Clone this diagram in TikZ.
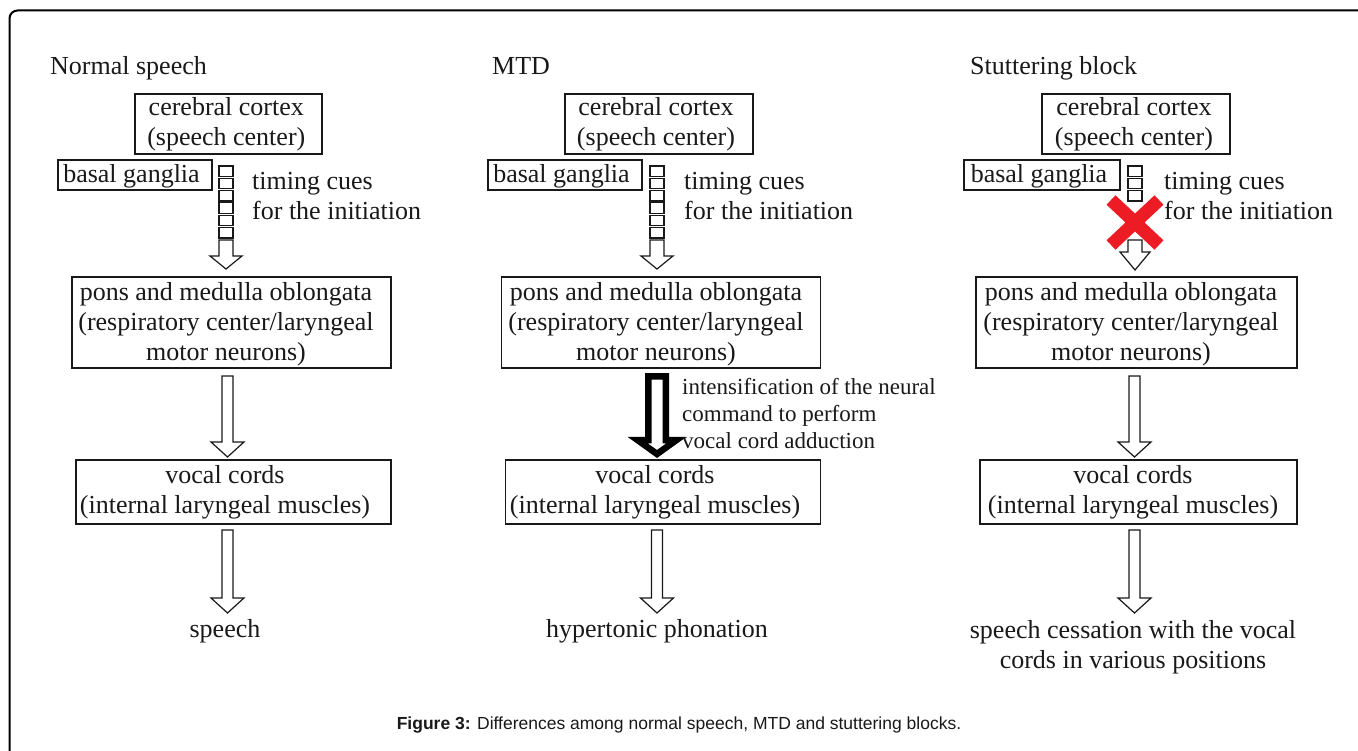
\documentclass[tikz,border=0pt]{standalone}
\usepackage{fontspec}
\setmainfont{Liberation Serif}
\newfontfamily\capfont{Liberation Sans}
\usetikzlibrary{calc}
\definecolor{xred}{RGB}{237,28,36}
\definecolor{ink}{RGB}{25,25,25}
\newcommand\mainfs{\fontsize{26}{30}\selectfont}
\newcommand\smallfs{\fontsize{23}{27}\selectfont}
% #1 style, #2 start coord, #3 tip coord, #4 shaft half width, #5 head half width, #6 head length
\newcommand\hollowarrow[6]{%
  \draw[#1] ($(#2)+(-#4,0)$) -- ($(#3)+(-#4,-#6)$) -- ($(#3)+(-#5,-#6)$) -- (#3)
    -- ($(#3)+(#5,-#6)$) -- ($(#3)+(#4,-#6)$) -- ($(#2)+(#4,0)$) -- cycle;}
\tikzset{
  boxn/.style={draw=ink, line width=1.4pt, inner sep=0pt},
  txt/.style={font=\mainfs, text=ink, inner sep=0pt, align=center},
  ltxt/.style={font=\mainfs, text=ink, inner sep=0pt, align=left, anchor=west},
  segbox/.style={draw=ink, line width=1.2pt, fill=white},
  harrow/.style={draw=ink, line width=1.2pt, fill=white, line join=miter},
  thickarrow/.style={draw=black, line width=6.5pt, fill=white, line join=miter},
  title/.style={font=\mainfs, text=ink, inner sep=0pt, anchor=base west}
}
\begin{document}
\begin{tikzpicture}[x=1pt,y=-1pt]
\useasboundingbox (0,0) rectangle (1358,751);
\fill[white] (0,0) rectangle (1358,751);
\draw[line width=2pt, rounded corners=8pt] (1370,10.5) -- (9.5,10.5) -- (9.5,770);

% ---------- column 1 ----------
\node[title] (t1) at (50,75) {Normal speech};
\node[boxn, minimum width=187pt, minimum height=60pt] (cc1) at (228.5,124) {};
\node[txt] (cc1t) at (226.3,124.5) {\strut cerebral cortex\\\strut (speech center)};
\node[boxn, minimum width=154pt, minimum height=30pt] (bg1) at (135,175) {};
\node[txt, anchor=base] (bg1t) at (131.5,183) {basal ganglia};
\node[ltxt] (tc1) at (252,199) {\strut timing cues\\\strut for the initiation};
\foreach \i in {0,...,5} \draw[segbox] (219,{166+12.3*\i}) rectangle ++(14,10.5);
\coordinate (s1a) at (226,240);
\coordinate (s1b) at (226,269);
\hollowarrow{harrow}{s1a}{s1b}{7}{16}{13}
\node[boxn, minimum width=319pt, minimum height=91pt] (pons1) at (231.5,322.5) {};
\node[txt] (pons1t) at (226,324.5) {\strut pons and medulla oblongata\\\strut (respiratory center/laryngeal\\\strut motor neurons)};
\coordinate (a1a) at (227.5,376);
\coordinate (a1b) at (227.5,457);
\hollowarrow{harrow}{a1a}{a1b}{5.5}{16.5}{15}
\node[boxn, minimum width=315pt, minimum height=64pt] (voc1) at (233.5,492) {};
\node[txt] (voc1t) at (225,492) {\strut vocal cords\\\strut (internal laryngeal muscles)};
\coordinate (b1a) at (227.5,530);
\coordinate (b1b) at (227.5,613);
\hollowarrow{harrow}{b1a}{b1b}{5.5}{16.5}{15}
\node[txt, anchor=base] (out1) at (225,637) {speech};

% ---------- column 2 ----------
\node[title] (t2) at (492,75) {MTD};
\node[boxn, minimum width=188pt, minimum height=60pt] (cc2) at (659,124) {};
\node[txt] (cc2t) at (656,124.5) {\strut cerebral cortex\\\strut (speech center)};
\node[boxn, minimum width=154pt, minimum height=30pt] (bg2) at (565,175) {};
\node[txt, anchor=base] (bg2t) at (561.5,183) {basal ganglia};
\node[ltxt] (tc2) at (684,199) {\strut timing cues\\\strut for the initiation};
\foreach \i in {0,...,5} \draw[segbox] (650,{166+12.3*\i}) rectangle ++(14,10.5);
\coordinate (s2a) at (657,240);
\coordinate (s2b) at (657,269);
\hollowarrow{harrow}{s2a}{s2b}{7}{16}{13}
\node[boxn, minimum width=319pt, minimum height=91pt] (pons2) at (661,322.5) {};
\node[txt] (pons2t) at (656,324.5) {\strut pons and medulla oblongata\\\strut (respiratory center/laryngeal\\\strut motor neurons)};
\coordinate (a2a) at (657,376.5);
\coordinate (a2b) at (657,454);
\hollowarrow{thickarrow}{a2a}{a2b}{8.75}{19.5}{14}
\node[ltxt, font=\smallfs] (int2) at (682,415.6) {\strut intensification of the neural\\\strut command to perform\\\strut vocal cord adduction};
\node[boxn, minimum width=315pt, minimum height=64pt] (voc2) at (663,492) {};
\node[txt] (voc2t) at (655,492) {\strut vocal cords\\\strut (internal laryngeal muscles)};
\coordinate (b2a) at (657,530);
\coordinate (b2b) at (657,613);
\hollowarrow{harrow}{b2a}{b2b}{5.5}{16.5}{15}
\node[txt, anchor=base] (out2) at (657,637) {hypertonic phonation};

% ---------- column 3 ----------
\node[title] (t3) at (970,75) {Stuttering block};
\node[boxn, minimum width=188pt, minimum height=60pt] (cc3) at (1136,124) {};
\node[txt] (cc3t) at (1134,124.5) {\strut cerebral cortex\\\strut (speech center)};
\node[boxn, minimum width=156pt, minimum height=30pt] (bg3) at (1042,175) {};
\node[txt, anchor=base] (bg3t) at (1039,183) {basal ganglia};
\node[ltxt] (tc3) at (1164,199) {\strut timing cues\\\strut for the initiation};
\foreach \i in {0,...,2} \draw[segbox] (1128,{166+12.3*\i}) rectangle ++(14,10.5);
\coordinate (s3a) at (1135,240);
\coordinate (s3b) at (1135,270);
\hollowarrow{harrow}{s3a}{s3b}{7}{15}{18}
\draw[xred, line width=13pt] (1111,200) -- (1159,245) (1159,200) -- (1111,245);
\node[boxn, minimum width=321pt, minimum height=91pt] (pons3) at (1136.5,322.5) {};
\node[txt] (pons3t) at (1131,324.5) {\strut pons and medulla oblongata\\\strut (respiratory center/laryngeal\\\strut motor neurons)};
\coordinate (a3a) at (1134.5,376);
\coordinate (a3b) at (1134.5,457);
\hollowarrow{harrow}{a3a}{a3b}{5.5}{16.5}{15}
\node[boxn, minimum width=317pt, minimum height=64pt] (voc3) at (1138.5,492) {};
\node[txt] (voc3t) at (1133,492) {\strut vocal cords\\\strut (internal laryngeal muscles)};
\coordinate (b3a) at (1134.5,530);
\coordinate (b3b) at (1134.5,613);
\hollowarrow{harrow}{b3a}{b3b}{5.5}{16.5}{15}
\node[txt] (out3) at (1133,647) {\strut speech cessation with the vocal\\\strut cords in various positions};

% ---------- caption ----------
\node[anchor=base, inner sep=0pt, text=ink] (cap) at (679,729) {\capfont\fontsize{17.5}{20}\selectfont\textbf{Figure 3:} Differences among normal speech, MTD and stuttering blocks.};
\end{tikzpicture}
\end{document}
